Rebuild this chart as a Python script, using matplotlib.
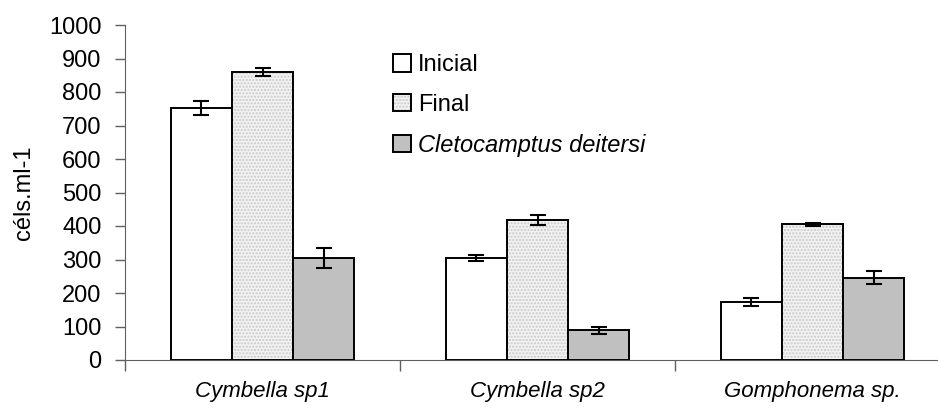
import matplotlib
matplotlib.use('Agg')
from matplotlib import pyplot as plt
from matplotlib.patches import Patch
from matplotlib.colors import to_rgba
import numpy as np

plt.rcParams['font.family'] = ['Liberation Sans', 'DejaVu Sans']
plt.rcParams['hatch.linewidth'] = 1.0

# especies e tratamentos
especies = ['Cymbella sp1', 'Cymbella sp2', 'Gomphonema sp.']
series = ['Inicial', 'Final', 'Cletocamptus deitersi']

inicial = [753, 305, 174]
inicial_err = [21, 9, 12]
final = [860, 418, 405]
final_err = [13, 15, 5]
cleto = [304, 89, 246]
cleto_err = [30, 11, 20]

pontilhado = to_rgba('#c8c8c8')

fig = plt.figure(figsize=(9.38, 4.08), dpi=100)
ax = fig.add_axes([125/938, 48/408, 825/938, 335/408])

x = np.arange(len(especies))
w = 0.223
ekw = dict(ecolor='black', elinewidth=1.5, capsize=5.5, capthick=1.5)

ax.bar(x - w, inicial, w, yerr=inicial_err, color='white', edgecolor='black',
       linewidth=1.4, error_kw=ekw, zorder=2)
b2 = ax.bar(x, final, w, yerr=final_err, color='#f2f2f2', edgecolor='black',
            linewidth=1.4, hatch='.....', error_kw=ekw, zorder=2)
for b in b2:
    b._hatch_color = pontilhado
ax.bar(x + w, cleto, w, yerr=cleto_err, color='#c0c0c0', edgecolor='black',
       linewidth=1.4, error_kw=ekw, zorder=2)

ax.set_xlim(-0.5, 2.5)
ax.set_ylim(0, 1000)
ax.set_yticks(range(0, 1001, 100))
ax.set_xticks([-0.5, 0.5, 1.5, 2.5])
ax.set_xticklabels([])
ax.set_xticks(x, minor=True)
ax.set_xticklabels(especies, minor=True, fontstyle='italic', fontsize=16)
ax.tick_params(axis='x', which='minor', length=0, pad=15)
ax.tick_params(axis='x', which='major', length=8, width=1, color='#606060', direction='out')
ax.tick_params(axis='y', length=7, width=1, color='#606060', labelsize=17, pad=10)

for s in ['top', 'right']:
    ax.spines[s].set_visible(False)
ax.spines['left'].set_color('#606060')
ax.spines['bottom'].set_color('#606060')

ax.set_ylabel('céls.ml-1', fontsize=17, labelpad=10)

h1 = Patch(facecolor='white', edgecolor='black', linewidth=1.4)
h2 = Patch(facecolor='#f2f2f2', edgecolor='black', linewidth=1.4, hatch='.....')
h2._hatch_color = pontilhado
h3 = Patch(facecolor='#c0c0c0', edgecolor='black', linewidth=1.4)
leg = ax.legend([h1, h2, h3], series, loc='upper left', bbox_to_anchor=(372/938, 1 - 33/408),
                bbox_transform=fig.transFigure, frameon=False, fontsize=17,
                handlelength=0.75, handleheight=0.75, handletextpad=0.3, labelspacing=0.75)
leg.get_texts()[2].set_fontstyle('italic')
for h in leg.legend_handles:
    if h.get_hatch():
        h._hatch_color = pontilhado

fig.savefig('out.png', dpi=100)
